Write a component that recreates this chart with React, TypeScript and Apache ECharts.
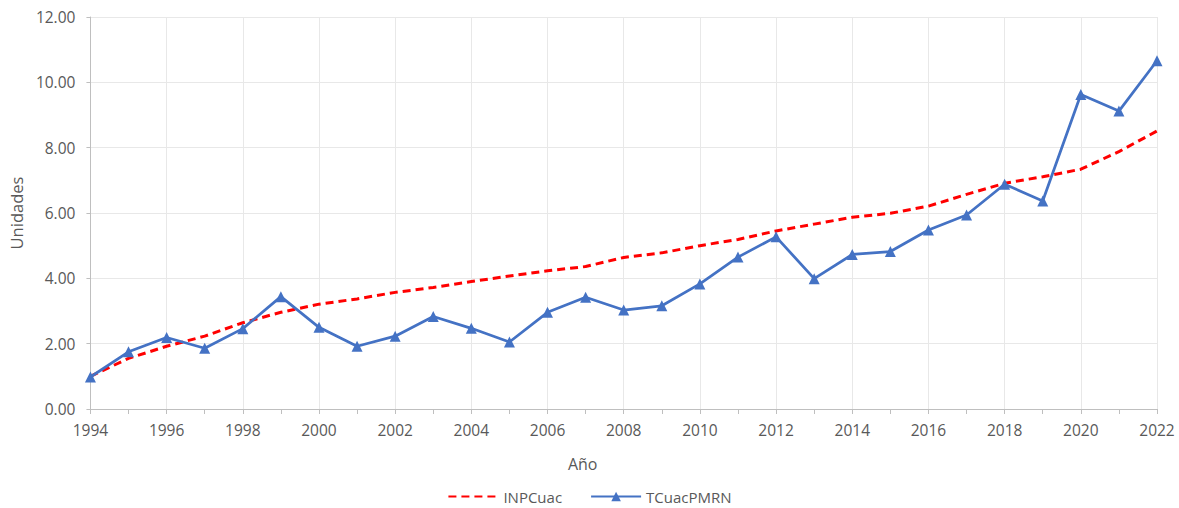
import React, { useEffect, useRef } from "react";
import * as echarts from "echarts";

const years = [
  "1994", "1995", "1996", "1997", "1998", "1999", "2000", "2001", "2002", "2003",
  "2004", "2005", "2006", "2007", "2008", "2009", "2010", "2011", "2012", "2013",
  "2014", "2015", "2016", "2017", "2018", "2019", "2020", "2021", "2022",
];

const inpcuac = [
  1.0, 1.55, 1.92, 2.23, 2.64, 2.96, 3.21, 3.37, 3.57, 3.72,
  3.9, 4.07, 4.23, 4.36, 4.64, 4.78, 5.0, 5.19, 5.45, 5.66,
  5.87, 5.99, 6.21, 6.57, 6.91, 7.11, 7.34, 7.88, 8.51,
];

const tcuacpmrn = [
  0.98, 1.75, 2.19, 1.86, 2.46, 3.44, 2.5, 1.92, 2.23, 2.83,
  2.47, 2.05, 2.96, 3.42, 3.03, 3.16, 3.83, 4.65, 5.27, 3.99,
  4.73, 4.82, 5.48, 5.94, 6.88, 6.37, 9.63, 9.12, 10.66,
];

const FONT = "'Open Sans', 'Noto Sans', sans-serif";
const TEXT = "#595959";

export default function App() {
  const ref = useRef<HTMLDivElement>(null);
  useEffect(() => {
    if (!ref.current) return;
    const chart = echarts.init(ref.current, undefined, { renderer: "svg" });
    chart.setOption({
      animation: false,
      backgroundColor: "#ffffff",
      textStyle: { fontFamily: FONT, color: TEXT },
      grid: { left: 89, right: 22, top: 17, bottom: 99, containLabel: false },
      xAxis: {
        type: "category",
        data: years,
        boundaryGap: false,
        name: "Año",
        nameLocation: "middle",
        nameGap: 47,
        nameTextStyle: { fontSize: 16, color: TEXT, fontFamily: FONT, padding: [0, 82, 0, 0] },
        axisLine: { show: true, lineStyle: { color: "#bfbfbf", width: 1 } },
        axisTick: { show: true, interval: 0, length: 5, lineStyle: { color: "#bfbfbf" } },
        axisLabel: { interval: 1, fontSize: 15.5, color: TEXT, margin: 13, fontFamily: FONT },
        splitLine: { show: true, interval: 1, lineStyle: { color: "#e8e8e8", width: 1 } },
      },
      yAxis: {
        type: "value",
        min: 0,
        max: 12,
        interval: 2,
        name: "Unidades",
        nameLocation: "middle",
        nameGap: 62,
        nameRotate: 90,
        nameTextStyle: { fontSize: 16.5, color: TEXT, fontFamily: FONT },
        axisLine: { show: true, lineStyle: { color: "#bfbfbf", width: 1 } },
        axisTick: { show: true, length: 4, lineStyle: { color: "#bfbfbf" } },
        axisLabel: {
          fontSize: 15.5,
          color: TEXT,
          margin: 15,
          fontFamily: FONT,
          formatter: (v: number) => v.toFixed(2),
        },
        splitLine: { show: true, lineStyle: { color: "#e8e8e8", width: 1 } },
      },
      legend: {
        top: 484,
        left: "center",
        itemWidth: 50,
        itemHeight: 12,
        itemGap: 28,
        textStyle: { fontSize: 15, color: TEXT, fontFamily: FONT },
        data: [
          { name: "INPCuac", itemStyle: { opacity: 0 } },
          { name: "TCuacPMRN" },
        ],
      },
      series: [
        {
          name: "INPCuac",
          type: "line",
          data: inpcuac,
          symbol: "none",
          lineStyle: { color: "#ff0000", width: 3, type: [8, 5] },
          itemStyle: { color: "#ff0000" },
          z: 3,
        },
        {
          name: "TCuacPMRN",
          type: "line",
          data: tcuacpmrn,
          symbol: "triangle",
          symbolSize: 11,
          lineStyle: { color: "#4472c4", width: 2.75 },
          itemStyle: { color: "#4472c4" },
          z: 4,
        },
      ],
    });
    return () => chart.dispose();
  }, []);
  return (
    <div
      ref={ref}
      style={{ position: "absolute", left: 0, top: 0, width: 1179, height: 508 }}
    />
  );
}
